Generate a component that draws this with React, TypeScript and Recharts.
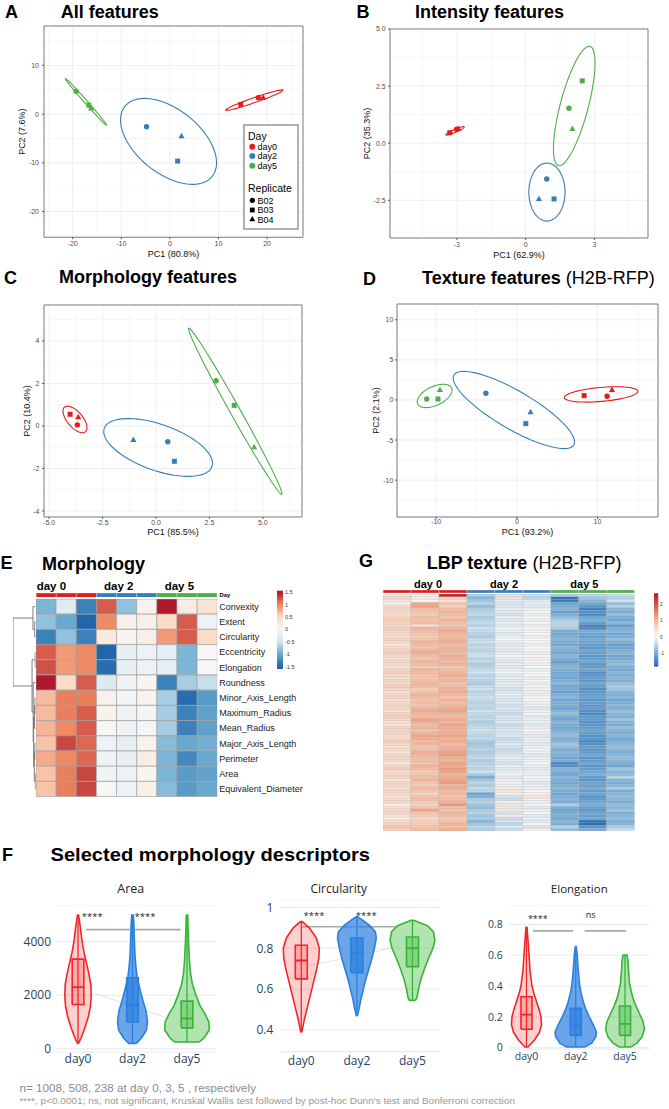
import React from 'react';
import {
  ScatterChart, Scatter, XAxis, YAxis, CartesianGrid, ReferenceLine, ReferenceArea,
  BarChart, Bar, Cell,
} from 'recharts';

const SANS = "'Liberation Sans', Arial, Helvetica, sans-serif";
const NARROW = "'Liberation Sans Narrow', 'Arial Narrow', 'Liberation Sans', sans-serif";
const PLOTLY_FONT = "'Open Sans', 'Liberation Sans', sans-serif";

// ---------------- shared categories ----------------
const DAYS = ['day0', 'day2', 'day5'];
const REPLICATES = ['B02', 'B03', 'B04'];
const DAY_COLORS: Record<string, string> = { day0: '#E41A1C', day2: '#377EB8', day5: '#4DAF4A' };

const P = (day: string, rep: string, x: number, y: number) => ({ day, rep, x, y });
const E = (day: string, cx: number, cy: number, ax: number, ay: number, bx: number, by: number) =>
  ({ day, cx, cy, ax, ay, bx, by });

// ---------------- PCA data (A-D) ----------------
const pcaAllPoints = [
  P('day0', 'B02', 18.2, 3.35), P('day0', 'B03', 14.6, 2.0), P('day0', 'B04', 19.2, 3.4),
  P('day2', 'B02', -4.8, -2.6), P('day2', 'B03', 1.6, -9.65), P('day2', 'B04', 2.4, -4.5),
  P('day5', 'B02', -19.3, 4.7), P('day5', 'B03', -16.7, 1.85), P('day5', 'B04', -16.2, 1.2),
];
const pcaAllEllipses = [
  E('day0', 17.4, 2.87, 5.9, 2.05, 0.17, -0.48),
  E('day2', -0.27, -5.6, 8.99, -7.19, 4.11, 5.13),
  E('day5', -17.25, 2.5, 4.25, -4.8, 0.23, 0.2),
];
const pcaIntensityPoints = [
  P('day0', 'B02', -3.01, 0.61), P('day0', 'B03', -3.31, 0.46), P('day0', 'B04', -2.94, 0.64),
  P('day2', 'B02', 0.92, -1.57), P('day2', 'B03', 1.24, -2.44), P('day2', 'B04', 0.58, -2.44),
  P('day5', 'B02', 1.89, 1.53), P('day5', 'B03', 2.47, 2.73), P('day5', 'B04', 2.04, 0.63),
];
const pcaIntensityEllipses = [
  E('day0', -3.08, 0.54, 0.4, 0.175, 0.026, -0.06),
  E('day2', 0.93, -2.14, 0, 1.27, 0.79, 0),
  E('day5', 2.12, 1.63, 0.69, 2.61, 0.59, -0.158),
];
const pcaMorphPoints = [
  P('day0', 'B02', -3.68, 0.05), P('day0', 'B03', -4.02, 0.55), P('day0', 'B04', -3.64, 0.41),
  P('day2', 'B02', 0.55, -0.74), P('day2', 'B03', 0.86, -1.66), P('day2', 'B04', -1.06, -0.66),
  P('day5', 'B02', 2.81, 2.13), P('day5', 'B03', 3.66, 0.97), P('day5', 'B04', 4.59, -1.0),
];
const pcaMorphEllipses = [
  E('day0', -3.79, 0.31, 0.49, -0.58, 0.275, 0.235),
  E('day2', 0.1, -1.01, 2.52, -0.9, 0.36, 1.02),
  E('day5', 3.71, 0.69, 2.18, -3.91, 0.204, 0.115),
];
const pcaTexturePoints = [
  P('day0', 'B02', 11.19, 0.46), P('day0', 'B03', 8.34, 0.54), P('day0', 'B04', 11.8, 1.25),
  P('day2', 'B02', -3.84, 0.83), P('day2', 'B03', 1.11, -2.95), P('day2', 'B04', 1.7, -1.53),
  P('day5', 'B02', -11.18, 0.12), P('day5', 'B03', -9.78, 0.12), P('day5', 'B04', -9.53, 1.25),
];
const pcaTextureEllipses = [
  E('day0', 10.45, 0.69, 4.56, 0.4, 0.075, -0.87),
  E('day2', -0.37, -1.25, 7.43, -4.36, 1.19, 2.05),
  E('day5', -10.19, 0.5, 2.1, 0.99, 0.5, -1.07),
];

// tick values
const ticksAX = [-20, -10, 0, 10, 20]; const minorAX = [-25, -15, -5, 5, 15, 25];
const ticksAY = [-20, -10, 0, 10]; const minorAY = [-25, -15, -5, 5, 15];
const ticksBX = [-3, 0, 3]; const minorBX = [-4.5, -1.5, 1.5, 4.5];
const ticksBY = [-2.5, 0, 2.5, 5]; const minorBY = [-3.75, -1.25, 1.25, 3.75];
const ticksCX = [-5, -2.5, 0, 2.5, 5]; const minorCX = [-3.75, -1.25, 1.25, 3.75, 6.25];
const ticksCY = [-4, -2, 0, 2, 4]; const minorCY = [-3, -1, 1, 3, 5];
const ticksDX = [-10, 0, 10]; const minorDX = [-5, 5, 15];
const ticksDY = [-10, -5, 0, 5, 10]; const minorDY = [-12.5, -7.5, -2.5, 2.5, 7.5];

// ---------------- Heatmap E (morphology) ----------------
const morphologyFeatures = [
  'Convexity', 'Extent', 'Circularity', 'Eccentricity', 'Elongation', 'Roundness',
  'Minor_Axis_Length', 'Maximum_Radius', 'Mean_Radius', 'Major_Axis_Length', 'Perimeter',
  'Area', 'Equivalent_Diameter',
];
const sampleDays = ['day0', 'day0', 'day0', 'day2', 'day2', 'day2', 'day5', 'day5', 'day5'];
const morphologyHeat = [
  [-0.9, -0.3, -1.3, 1.2, -0.8, 0.1, 1.6, 0.2, 0.35],
  [-0.8, -1.0, -1.5, 1.0, 0.15, 0.15, 0.5, 1.2, -0.15],
  [-1.3, -0.8, -1.3, 0.25, 0.05, 0.15, 0.9, 1.2, 0.5],
  [1.2, 0.9, 1.0, -1.5, -0.2, -0.15, -0.25, -0.9, 0.0],
  [1.25, 0.9, 1.0, -1.45, -0.2, -0.15, -0.25, -0.9, 0.0],
  [1.55, 0.5, 1.2, -0.35, -0.1, 0.05, -1.3, -0.7, -0.55],
  [0.7, 1.05, 1.05, 0.1, -0.05, 0.1, -0.7, -1.45, -1.1],
  [0.7, 1.05, 1.2, 0.1, -0.1, -0.05, -0.7, -1.3, -1.05],
  [0.75, 1.0, 1.2, 0.02, -0.1, -0.05, -0.7, -1.3, -1.05],
  [0.65, 1.3, 1.15, -0.15, -0.25, 0.1, -0.85, -1.0, -0.95],
  [0.8, 1.0, 1.15, -0.1, -0.2, 0.2, -0.9, -1.25, -1.0],
  [0.65, 1.05, 1.3, -0.1, -0.15, 0.05, -0.9, -1.1, -1.05],
  [0.65, 1.05, 1.3, 0.02, -0.15, 0.15, -0.85, -1.1, -1.0],
];
// dendrogram merges: child positions (row units), child heights, merge height
const morphDendro = [
  { p1: 1.5, h1: 0, p2: 2.5, h2: 0, h: 0.4 },
  { p1: 0.5, h1: 0, p2: 2.0, h2: 0.4, h: 1.2 },
  { p1: 3.5, h1: 0, p2: 4.5, h2: 0, h: 0.2 },
  { p1: 6.5, h1: 0, p2: 7.5, h2: 0, h: 0.3 },
  { p1: 7.0, h1: 0.3, p2: 8.5, h2: 0, h: 0.5 },
  { p1: 9.5, h1: 0, p2: 10.5, h2: 0, h: 0.35 },
  { p1: 11.5, h1: 0, p2: 12.5, h2: 0, h: 0.15 },
  { p1: 10.0, h1: 0.35, p2: 12.0, h2: 0.15, h: 0.6 },
  { p1: 7.75, h1: 0.5, p2: 11.0, h2: 0.6, h: 0.9 },
  { p1: 5.5, h1: 0, p2: 9.375, h2: 0.9, h: 1.1 },
  { p1: 4.0, h1: 0.2, p2: 7.44, h2: 1.1, h: 1.6 },
  { p1: 1.25, h1: 1.2, p2: 5.72, h2: 1.6, h: 10 },
];
const morphLegendTicks = [1.5, 1, 0.5, 0, -0.5, -1, -1.5];

// ---------------- Heatmap G (LBP texture), one array per sample ----------------
const lbpDay0A = [
  -0.2, 0.6, 0.3, 0.1, 0.5, 0.6, 0.5, 0.4, 0.6, 0.7,
  0.6, 0.5, 0.7, 0.6, 0.5, 0.4, 0.6, 0.5, 0.3, 0.5,
  0.6, 0.7, 0.5, 0.4, 0.6, 0.5, 0.3, 0.6, 0.7, 0.5,
  0.4, 0.6, 0.5, 0.7, 0.6, 0.4, 0.5, 0.6, 0.3, 0.5,
  0.6, 0.5, 0.4, 0.6, 0.7, 0.5, 0.4, 0.3, 0.6, 0.5,
  0.6, 0.4, 0.5, 0.7, 0.6, 0.4, 0.5, 0.3, 0.5, 0.6,
  0.5, 0.2, 0.6, 0.7, 0.4, 0.5, 0.6, 0.3, 0.6, 0.5,
  0.4, 0.6, 0.5, 0.3, 0.5, 0.6, 0.1, 0.4, 0.5, 0.6,
  0.4, 0.2, 0.5, 0.6, 0.8, 0.7];
const lbpDay0B = [
  0.1, 0.2, 0.0, 1.1, 1.2, 0.9, 0.8, 0.7, 0.9, 0.8,
  0.9, 0.5, 1.0, 0.9, 0.8, 0.7, 0.8, 1.0, 0.9, 0.8,
  1.0, 1.1, 0.9, 0.8, 1.0, 0.9, 0.7, 1.0, 0.9, 0.8,
  0.8, 0.9, 1.0, 0.9, 0.7, 0.8, 1.0, 0.9, 0.8, 0.9,
  0.8, 1.0, 1.1, 1.0, 0.9, 1.2, 1.1, 0.9, 1.0, 0.8,
  1.0, 1.2, 1.1, 0.9, 1.0, 0.8, 0.9, 1.1, 1.0, 0.9,
  0.9, 0.8, 1.0, 0.9, 0.7, 0.8, 0.9, 1.0, 0.8, 0.7,
  0.9, 0.8, 0.6, 0.8, 0.9, 0.7, 0.6, 0.8, 1.2, 0.8,
  0.7, 0.5, 0.6, 0.7, 0.8, 0.9];
const lbpDay0C = [
  2.6, 0.7, 0.3, 0.8, 0.6, 0.9, 1.0, 0.9, 0.8, 1.0,
  0.9, 0.8, 1.0, 1.1, 1.0, 0.9, 1.0, 1.1, 0.9, 1.0,
  1.0, 0.9, 1.1, 1.0, 0.9, 1.0, 0.8, 0.9, 1.0, 1.1,
  0.9, 1.0, 0.8, 0.9, 1.0, 1.1, 0.9, 0.8, 1.0, 0.9,
  1.0, 1.1, 1.2, 1.0, 0.9, 1.1, 1.0, 1.2, 1.1, 1.0,
  1.1, 1.2, 1.0, 1.1, 0.9, 1.0, 1.1, 1.2, 1.3, 1.1,
  1.0, 1.2, 1.1, 1.3, 1.2, 1.0, 1.1, 1.2, 1.3, 1.0,
  1.1, 0.9, 1.0, 0.8, 0.9, 1.0, 1.3, 0.9, 0.8, 1.0,
  0.9, 0.7, 0.8, 1.0, 0.9, 1.1];
const lbpDay2A = [
  -0.6, -0.9, -0.7, -0.5, -0.8, -0.6, -0.5, -0.4, -0.6, -0.5,
  -0.4, -0.5, -0.3, -0.4, -0.5, -0.6, -0.4, -0.3, -0.5, -0.4,
  -0.5, -0.4, -0.3, -0.5, -0.4, -0.6, -0.5, -0.4, -0.3, -0.5,
  -0.4, -0.5, -0.6, -0.4, -0.3, -0.5, -0.4, -0.3, -0.4, -0.5,
  -0.4, -0.5, -0.3, -0.4, -0.5, -0.4, -0.6, -0.5, -0.4, -0.3,
  -0.4, -0.5, -0.4, -0.6, -0.7, -0.6, -0.5, -0.6, -0.5, -0.4,
  -0.6, -0.5, -0.4, -0.5, -0.3, -0.6, -1.0, -0.7, -0.5, -0.6,
  -0.4, -0.5, -1.1, -1.0, -0.6, -0.5, -0.7, -0.8, -0.6, -0.5,
  -0.7, -0.6, -0.9, -0.7, -0.5, -0.6];
const lbpDay2B = [
  -0.3, 0.4, -0.2, -0.3, -0.2, -0.1, -0.2, -0.3, -0.1, -0.2,
  -0.1, -0.2, 0.0, -0.1, -0.2, -0.1, 0.0, -0.1, -0.2, -0.1,
  -0.2, -0.1, 0.0, -0.1, -0.2, -0.1, -0.2, -0.1, 0.0, -0.2,
  -0.1, -0.2, -0.1, -0.2, -0.3, -0.2, -0.1, -0.2, -0.3, -0.2,
  -0.3, -0.2, -0.3, -0.4, -0.2, -0.3, -0.2, -0.4, -0.3, -0.2,
  -0.3, -0.2, -0.4, -0.3, -0.2, -0.3, -0.4, -0.3, -0.2, -0.1,
  -0.2, -0.3, -0.1, -0.2, -0.1, 0.0, -0.2, -0.1, 0.1, -0.1,
  0.2, 0.3, 0.1, -0.3, -0.4, 0.2, -0.2, 0.3, 0.2, -0.3,
  0.2, -0.4, -0.3, -0.5, -0.2, -0.4];
const lbpDay2C = [
  -0.4, -0.5, -0.2, -0.1, -0.2, -0.1, 0.0, -0.1, 0.0, -0.1,
  0.0, -0.1, 0.0, 0.1, 0.0, -0.1, 0.0, 0.0, -0.1, 0.0,
  0.0, -0.1, 0.0, 0.1, 0.0, -0.1, 0.0, -0.1, 0.0, 0.0,
  -0.1, 0.0, -0.1, 0.0, 0.1, -0.1, -0.1, 0.0, 0.0, -0.1,
  -0.1, -0.2, -0.1, 0.0, -0.2, -0.1, -0.1, -0.2, -0.1, 0.0,
  -0.1, -0.2, -0.1, -0.1, -0.2, -0.1, 0.0, -0.1, -0.2, -0.1,
  -0.1, 0.0, -0.1, -0.2, -0.1, -0.1, 0.0, -0.1, -0.2, -0.1,
  -0.1, 0.0, 0.1, 0.3, 0.2, -0.1, 0.0, -0.2, -0.1, 0.0,
  -0.2, -0.1, -0.2, 0.0, -0.3, 0.2];
const lbpDay5A = [
  -0.6, -1.8, -1.7, -1.1, -1.0, -0.9, -1.2, -1.0, -0.8, -0.6,
  -0.5, -0.5, -0.6, -1.0, -1.1, -1.0, -0.9, -1.0, -1.1, -0.9,
  -1.0, -1.1, -0.9, -1.0, -1.2, -1.0, -0.9, -1.0, -1.1, -1.0,
  -1.1, -1.0, -0.9, -1.1, -1.0, -1.2, -1.0, -0.9, -1.1, -1.0,
  -1.0, -1.1, -0.9, -0.8, -1.0, -1.1, -0.9, -1.0, -1.1, -1.0,
  -0.9, -0.8, -1.0, -0.9, -0.7, -0.8, -1.0, -0.9, -1.0, -1.1,
  -1.0, -1.5, -1.4, -0.9, -1.0, -1.1, -0.9, -1.0, -1.1, -1.0,
  -0.9, -1.0, -1.1, -1.0, -0.9, -1.0, -0.6, -1.0, -1.1, -1.0,
  -1.0, -1.1, -0.9, -1.0, -0.5, -0.8];
const lbpDay5B = [
  -0.5, -0.7, -0.9, -1.1, -1.3, -1.6, -1.4, -1.5, -1.1, -1.0,
  -1.2, -1.6, -1.5, -1.0, -1.1, -1.2, -1.0, -1.1, -1.2, -1.3,
  -1.1, -1.2, -1.3, -1.2, -1.1, -1.3, -1.2, -1.1, -1.4, -1.3,
  -1.2, -1.3, -1.1, -1.2, -1.4, -1.3, -1.2, -1.1, -1.3, -1.2,
  -1.3, -1.2, -1.4, -1.5, -1.3, -1.2, -1.4, -1.3, -1.2, -1.1,
  -1.2, -1.4, -1.3, -1.5, -1.4, -1.2, -1.3, -1.2, -1.1, -1.3,
  -1.2, -1.1, -1.3, -1.2, -1.1, -1.0, -1.2, -1.3, -1.1, -1.2,
  -1.0, -1.2, -1.1, -1.4, -1.2, -1.1, -1.0, -1.2, -1.3, -1.1,
  -1.2, -1.1, -1.8, -1.9, -1.3, -1.0];
const lbpDay5C = [
  -0.4, -0.5, -0.3, -0.8, -0.5, -0.9, -1.0, -0.8, -1.0, -1.1,
  -0.9, -1.2, -1.0, -0.9, -1.1, -1.0, -0.8, -1.0, -1.2, -1.1,
  -1.0, -0.9, -1.1, -1.0, -0.9, -0.8, -1.0, -1.1, -0.9, -1.0,
  -0.9, -1.0, -0.8, -0.6, -0.7, -0.9, -1.0, -0.9, -1.1, -1.0,
  -0.9, -1.0, -0.8, -0.9, -1.0, -0.7, -0.9, -1.0, -0.8, -0.9,
  -1.0, -0.9, -1.1, -1.0, -0.9, -0.8, -0.9, -1.0, -0.9, -0.8,
  -0.9, -1.0, -1.1, -0.7, -0.9, -0.8, -0.5, -0.9, -1.0, -0.9,
  -0.6, -1.0, -0.9, -0.8, -0.9, -1.0, -0.8, -0.9, -0.7, -1.0,
  -0.9, -0.8, -1.0, -0.9, -0.6, -0.4];
const lbpSamples = [lbpDay0A, lbpDay0B, lbpDay0C, lbpDay2A, lbpDay2B, lbpDay2C, lbpDay5A, lbpDay5B, lbpDay5C];
const lbpLegendTicks = [2, 1, 0, -1];

// ---------------- Violins F ----------------
// [value, half-width in category units]
const areaDay0 = [[200, 0.01], [400, 0.055], [800, 0.13], [1200, 0.19], [1600, 0.23], [2000, 0.242], [2400, 0.235], [2800, 0.2], [3200, 0.155], [3600, 0.11], [4000, 0.075], [4500, 0.045], [5000, 0.01]];
const areaDay2 = [[200, 0.07], [400, 0.165], [700, 0.255], [1000, 0.275], [1400, 0.25], [1800, 0.19], [2200, 0.14], [2600, 0.09], [3000, 0.065], [3500, 0.045], [4000, 0.035], [4500, 0.028], [5000, 0.015]];
const areaDay5 = [[250, 0.22], [400, 0.31], [700, 0.41], [1000, 0.4], [1300, 0.33], [1600, 0.24], [2000, 0.165], [2400, 0.1], [2800, 0.065], [3300, 0.045], [4000, 0.028], [5000, 0.013]];
const areaBoxes = [[1650, 2300, 3350], [1000, 1650, 2650], [780, 1130, 1780]];

const circDay0 = [[0.39, 0.009], [0.45, 0.054], [0.5, 0.099], [0.55, 0.144], [0.6, 0.189], [0.65, 0.234], [0.7, 0.279], [0.75, 0.315], [0.8, 0.324], [0.85, 0.27], [0.9, 0.144], [0.93, 0.018]];
const circDay2 = [[0.47, 0.009], [0.5, 0.036], [0.55, 0.072], [0.6, 0.117], [0.65, 0.162], [0.7, 0.216], [0.75, 0.27], [0.8, 0.315], [0.85, 0.349], [0.88, 0.333], [0.91, 0.234], [0.94, 0.09], [0.955, 0.009]];
const circDay5 = [[0.545, 0.054], [0.56, 0.081], [0.6, 0.108], [0.65, 0.153], [0.7, 0.216], [0.75, 0.288], [0.8, 0.369], [0.84, 0.403], [0.88, 0.378], [0.91, 0.27], [0.93, 0.09], [0.937, 0.018]];
const circBoxes = [[0.65, 0.74, 0.815], [0.68, 0.775, 0.85], [0.71, 0.8, 0.855]];

const elongDay0 = [[0.005, 0.03], [0.05, 0.162], [0.1, 0.264], [0.15, 0.305], [0.2, 0.294], [0.25, 0.254], [0.3, 0.203], [0.35, 0.152], [0.4, 0.112], [0.5, 0.071], [0.6, 0.051], [0.7, 0.03], [0.78, 0.01]];
const elongDay2 = [[0.005, 0.183], [0.03, 0.325], [0.07, 0.406], [0.1, 0.42], [0.15, 0.355], [0.2, 0.274], [0.25, 0.203], [0.3, 0.152], [0.35, 0.112], [0.4, 0.081], [0.5, 0.051], [0.6, 0.03], [0.655, 0.01]];
const elongDay5 = [[0.005, 0.122], [0.03, 0.244], [0.07, 0.345], [0.12, 0.394], [0.17, 0.365], [0.22, 0.294], [0.27, 0.223], [0.32, 0.162], [0.37, 0.122], [0.42, 0.091], [0.5, 0.071], [0.56, 0.061], [0.6, 0.041]];
const elongBoxes = [[0.12, 0.215, 0.33], [0.08, 0.145, 0.255], [0.08, 0.155, 0.27]];

const areaTicks = [0, 2000, 4000];
const circTicks = [0.4, 0.6, 0.8, 1];
const elongTicks = [0, 0.2, 0.4, 0.6, 0.8];

const areaSigLines = [[[1.15, 4450], [1.95, 4450]], [[2.05, 4450], [2.88, 4450]]];
const circSigLines = [[[1.0, 0.905], [1.98, 0.905]], [[2.02, 0.905], [2.73, 0.905]]];
const elongSigLines = [[[1.13, 0.757], [1.95, 0.757]], [[2.18, 0.757], [3.02, 0.757]]];
const areaSigLabels = [{ x: 1.26, y: 5000, label: '****' }, { x: 2.23, y: 5000, label: '****' }];
const circSigLabels = [{ x: 1.23, y: 0.971, label: '****' }, { x: 2.17, y: 0.971, label: '****' }];
const elongSigLabels = [{ x: 1.23, y: 0.847, label: '****' }, { x: 2.3, y: 0.86, label: 'ns' }];
const areaTrend = [[1.27, 2093], [2.66, 1136]];
const circTrend = [[1.18, 0.717], [2.73, 0.806]];

const VIOLIN_STYLE: Record<string, any> = {
  day0: { stroke: '#F0262B', fill: '#FF2A2A', op: 0.22 },
  day2: { stroke: '#2B7FE0', fill: '#2B7FE0', op: 0.7 },
  day5: { stroke: '#36B436', fill: '#45BE45', op: 0.42 },
};

// ---------------- helpers ----------------
const hexToRgb = (h: string) => { const n = parseInt(h.slice(1), 16); return [(n >> 16) & 255, (n >> 8) & 255, n & 255]; };
const makeColorScale = (stops: any[]) => (v: number) => {
  if (v <= stops[0][0]) return stops[0][1];
  for (let i = 1; i < stops.length; i++) {
    if (v <= stops[i][0]) {
      const [v0, c0] = stops[i - 1]; const [v1, c1] = stops[i];
      const t = (v - v0) / (v1 - v0); const a = hexToRgb(c0); const b = hexToRgb(c1);
      return `rgb(${a.map((x, k) => Math.round(x + (b[k] - x) * t)).join(',')})`;
    }
  }
  return stops[stops.length - 1][1];
};
const morphStops = [[-1.5, '#2166AC'], [-1, '#67A9CF'], [-0.5, '#D1E5F0'], [0, '#F7F7F7'], [0.5, '#FDDBC7'], [1, '#EF8A62'], [1.5, '#B2182B']];
const lbpStops = [[-1.9, '#2A6BB0'], [-1.2, '#5F9DD0'], [-0.7, '#9CC6E2'], [-0.3, '#D3E5F1'], [0, '#F7F7F7'], [0.6, '#FBD5C0'], [1.2, '#F1A483'], [1.9, '#D6604D'], [2.7, '#B2182B']];
const morphColor = makeColorScale(morphStops);
const lbpColor = makeColorScale(lbpStops);

const ellipsePoints = (e: any) => {
  const pts = [];
  for (let i = 0; i <= 72; i++) {
    const t = (i / 72) * 2 * Math.PI;
    pts.push({ x: e.cx + e.ax * Math.cos(t) + e.bx * Math.sin(t), y: e.cy + e.ay * Math.cos(t) + e.by * Math.sin(t) });
  }
  return pts;
};
const renderNothing = () => <g />;
const markerShape = (color: string) => (props: any) => {
  const { cx, cy, payload } = props;
  if (cx == null || cy == null) return <g />;
  const rep = payload && payload.rep;
  if (rep === 'B02') return <circle cx={cx} cy={cy} r={2.7} fill={color} />;
  if (rep === 'B03') return <rect x={cx - 2.5} y={cy - 2.5} width={5} height={5} fill={color} />;
  return <polygon points={`${cx},${cy - 3.4} ${cx + 3.1},${cy + 2.1} ${cx - 3.1},${cy + 2.1}`} fill={color} />;
};

// ---------------- PCA panel ----------------
const PAD_TOP = 6;
const PAD_BOTTOM = 5;
function PcaPanel({ c }: any) {
  const yAxisWidth = c.plotLeft - c.left;
  const width = c.plotRight - c.left + 1;
  const height = c.plotBottom - c.plotTop + c.xAxisHeight + PAD_TOP + PAD_BOTTOM;
  const tickStyle = { fontSize: 7, fill: '#4D4D4D', fontFamily: SANS };
  return (
    <div style={{ position: 'absolute', left: c.left, top: c.plotTop - PAD_TOP }}>
      <ScatterChart width={width} height={height} margin={{ top: PAD_TOP, right: 1, bottom: PAD_BOTTOM, left: 0 }}>
        <CartesianGrid stroke="#EBEBEB" strokeWidth={0.8} />
        {c.xMinor.map((v: number) => <ReferenceLine key={'xm' + v} x={v} stroke="#F2F2F2" strokeWidth={0.6} />)}
        {c.yMinor.map((v: number) => <ReferenceLine key={'ym' + v} y={v} stroke="#F2F2F2" strokeWidth={0.6} />)}
        <XAxis type="number" dataKey="x" domain={c.xDomain} ticks={c.xTicks} allowDataOverflow interval={0}
          tickFormatter={c.xFmt} axisLine={false} tickSize={2} tickMargin={c.xTickMargin}
          tickLine={{ stroke: '#333', strokeWidth: 0.8 }} tick={tickStyle} height={c.xAxisHeight}
          label={{ value: c.xLabel, position: 'insideBottom', offset: 0, style: { fontSize: 9, fill: '#111', fontFamily: SANS } }} />
        <YAxis type="number" dataKey="y" domain={c.yDomain} ticks={c.yTicks} allowDataOverflow interval={0}
          tickFormatter={c.yFmt} axisLine={false} tickSize={2} tickMargin={c.yTickMargin}
          tickLine={{ stroke: '#333', strokeWidth: 0.8 }} tick={tickStyle} width={yAxisWidth}
          label={{ value: c.yLabel, angle: -90, position: 'insideLeft', offset: c.yLabelX - c.left, style: { textAnchor: 'middle', fontSize: 9, fill: '#111', fontFamily: SANS } }} />
        {c.ellipses.map((e: any) => (
          <Scatter key={'el' + e.day} data={ellipsePoints(e)} line={{ stroke: DAY_COLORS[e.day], strokeWidth: 1.1, fill: 'none' }}
            lineType="joint" shape={renderNothing} isAnimationActive={false} />
        ))}
        {DAYS.map((d) => (
          <Scatter key={'pt' + d} data={c.points.filter((p: any) => p.day === d)} shape={markerShape(DAY_COLORS[d])} isAnimationActive={false} />
        ))}
        <ReferenceArea x1={c.xDomain[0]} x2={c.xDomain[1]} y1={c.yDomain[0]} y2={c.yDomain[1]} fill="none" fillOpacity={0}
          stroke="#7F7F7F" strokeWidth={1} ifOverflow="visible" />
      </ScatterChart>
    </div>
  );
}

const fmt1 = (v: number) => v.toFixed(1);
const fmt0 = (v: number) => String(v);

const panelA = {
  left: 0, plotLeft: 44, plotRight: 303, plotTop: 26, plotBottom: 237.3, xAxisHeight: 19.3,
  xDomain: [-25.9, 27.4], yDomain: [-25.3, 18.1], xTicks: ticksAX, yTicks: ticksAY, xMinor: minorAX, yMinor: minorAY,
  xFmt: fmt0, yFmt: fmt0, xTickMargin: 1.5, yTickMargin: 3, yLabelX: 22,
  xLabel: 'PC1 (80.8%)', yLabel: 'PC2 (7.6%)', points: pcaAllPoints, ellipses: pcaAllEllipses,
};
const panelB = {
  left: 335, plotLeft: 390, plotRight: 648, plotTop: 29, plotBottom: 238, xAxisHeight: 20.3,
  xDomain: [-5.92, 5.34], yDomain: [-4.15, 5.0], xTicks: ticksBX, yTicks: ticksBY, xMinor: minorBX, yMinor: minorBY,
  xFmt: fmt0, yFmt: fmt1, xTickMargin: 2.5, yTickMargin: 2.3, yLabelX: 366.7,
  xLabel: 'PC1 (62.9%)', yLabel: 'PC2 (35.3%)', points: pcaIntensityPoints, ellipses: pcaIntensityEllipses,
};
const panelC = {
  left: 0, plotLeft: 44, plotRight: 302, plotTop: 305, plotBottom: 517, xAxisHeight: 17.6,
  xDomain: [-5.24, 6.83], yDomain: [-4.28, 5.69], xTicks: ticksCX, yTicks: ticksCY, xMinor: minorCX, yMinor: minorCY,
  xFmt: fmt1, yFmt: fmt0, xTickMargin: 0.9, yTickMargin: 2.7, yLabelX: 26.7,
  xLabel: 'PC1 (85.5%)', yLabel: 'PC2 (10.4%)', points: pcaMorphPoints, ellipses: pcaMorphEllipses,
};
const panelD = {
  left: 335, plotLeft: 397, plotRight: 658, plotTop: 304, plotBottom: 517, xAxisHeight: 18,
  xDomain: [-14.86, 17.5], yDomain: [-14.6, 11.97], xTicks: ticksDX, yTicks: ticksDY, xMinor: minorDX, yMinor: minorDY,
  xFmt: fmt0, yFmt: fmt0, xTickMargin: 0.5, yTickMargin: 1.7, yLabelX: 375.7,
  xLabel: 'PC1 (93.2%)', yLabel: 'PC2 (2.1%)', points: pcaTexturePoints, ellipses: pcaTextureEllipses,
};

// ---------------- Heatmap ----------------
function Heatmap({ left, top, cellWidth, height, rows, getValue, colorFn, stroke, strokeWidth, labelWidth, showLabels }: any) {
  const nCols = sampleDays.length;
  const keys = sampleDays.map((_, j) => 's' + j);
  const data = rows.map((name: string) => { const o: any = { name }; keys.forEach((k) => { o[k] = 1; }); return o; });
  const width = cellWidth + (showLabels ? labelWidth : 0);
  return (
    <div style={{ position: 'absolute', left, top }}>
      <BarChart layout="vertical" width={width} height={height} data={data} margin={{ top: 0, right: 0, bottom: 0, left: 0 }}
        barCategoryGap={0} barGap={0}>
        <XAxis type="number" domain={[0, nCols]} hide allowDataOverflow />
        <YAxis type="category" dataKey="name" orientation="right" hide={!showLabels} width={labelWidth}
          axisLine={false} tickLine={false} tickSize={0} tickMargin={2} interval={0}
          tick={{ fontSize: 9, fill: '#1A1A1A', fontFamily: SANS, textAnchor: 'start' }} />
        {keys.map((k, j) => (
          <Bar key={k} dataKey={k} stackId="h" isAnimationActive={false} stroke={stroke} strokeWidth={strokeWidth}>
            {rows.map((_: string, i: number) => <Cell key={i} fill={colorFn(getValue(i, j))} />)}
          </Bar>
        ))}
      </BarChart>
    </div>
  );
}

function AnnotationBar({ left, top, width, height }: any) {
  const keys = sampleDays.map((_, j) => 'a' + j);
  const row: any = { name: 'Day' }; keys.forEach((k) => { row[k] = 1; });
  return (
    <div style={{ position: 'absolute', left, top }}>
      <BarChart layout="vertical" width={width} height={height} data={[row]} margin={{ top: 0, right: 0, bottom: 0, left: 0 }}
        barCategoryGap={0} barGap={0}>
        <XAxis type="number" domain={[0, keys.length]} hide allowDataOverflow />
        <YAxis type="category" dataKey="name" hide />
        {keys.map((k, j) => (
          <Bar key={k} dataKey={k} stackId="a" isAnimationActive={false} stroke="#d9d9d9" strokeWidth={0.4}>
            <Cell fill={DAY_COLORS[sampleDays[j]]} />
          </Bar>
        ))}
      </BarChart>
    </div>
  );
}

function Dendrogram({ left, top, width, height, links, nRows, maxH }: any) {
  return (
    <div style={{ position: 'absolute', left, top }}>
      <ScatterChart width={width} height={height} margin={{ top: 0, right: 0, bottom: 0, left: 0 }}>
        <XAxis type="number" dataKey="x" domain={[0, maxH]} reversed hide allowDataOverflow />
        <YAxis type="number" dataKey="y" domain={[0, nRows]} reversed hide allowDataOverflow />
        {links.map((l: any, i: number) => (
          <Scatter key={i} isAnimationActive={false} shape={renderNothing} lineType="joint"
            line={{ stroke: '#6E6E6E', strokeWidth: 0.9, fill: 'none' }}
            data={[{ x: l.h1, y: l.p1 }, { x: l.h, y: l.p1 }, { x: l.h, y: l.p2 }, { x: l.h2, y: l.p2 }]} />
        ))}
      </ScatterChart>
    </div>
  );
}

// ---------------- Violin panel ----------------
const violinPolygon = (profile: number[][], c: number) => {
  const right = profile.map(([v, w]) => ({ x: c + w, y: v }));
  const leftSide = profile.slice().reverse().map(([v, w]) => ({ x: c - w, y: v }));
  return [...right, ...leftSide, right[0]];
};
const sigTextShape = (fontSize: number) => (props: any) => {
  const { cx, cy, payload } = props;
  if (cx == null) return <g />;
  const isStar = payload.label.indexOf('*') >= 0;
  return (
    <text x={cx} y={cy} dy={isStar ? '0.58em' : '0.3em'} textAnchor="middle" fontSize={fontSize}
      fill="#222" fontFamily={PLOTLY_FONT}>{payload.label}</text>
  );
};

function ViolinPanel({ c }: any) {
  const yAxisWidth = c.plotLeft - c.left;
  const width = c.plotRight - c.left;
  const height = c.plotBottom - c.plotTop + 20;
  const tick = { fontSize: c.tickFont, fill: '#2A3F5F', fontFamily: PLOTLY_FONT };
  return (
    <div style={{ position: 'absolute', left: c.left, top: c.plotTop }}>
      <ScatterChart width={width} height={height} margin={{ top: 0, right: 0, bottom: 0, left: 0 }}>
        <CartesianGrid vertical={false} stroke="#E5EAF2" strokeWidth={1} />
        <XAxis type="number" dataKey="x" domain={c.xDomain} ticks={[1, 2, 3]} allowDataOverflow interval={0}
          tickFormatter={(v: number) => DAYS[v - 1]} axisLine={c.axisLine ? { stroke: '#E5EAF2' } : false}
          tickLine={false} tickSize={0} tickMargin={c.xTickMargin} tick={tick} height={20} />
        <YAxis type="number" dataKey="y" domain={c.yDomain} ticks={c.yTicks} allowDataOverflow interval={0}
          tickFormatter={c.yFmt} axisLine={false} tickLine={false} tickSize={0} tickMargin={c.yTickMargin}
          tick={tick} width={yAxisWidth} />
        {c.trend && (
          <Scatter data={c.trend.map(([x, y]: number[]) => ({ x, y }))} line={{ stroke: '#E2E2E2', strokeWidth: 1 }}
            lineType="joint" shape={renderNothing} isAnimationActive={false} />
        )}
        {c.sigLines.map((seg: number[][], i: number) => (
          <Scatter key={'sig' + i} data={seg.map(([x, y]) => ({ x, y }))} line={{ stroke: '#A9A9A9', strokeWidth: 1.6 }}
            lineType="joint" shape={renderNothing} isAnimationActive={false} />
        ))}
        {DAYS.map((d, i) => {
          const s = VIOLIN_STYLE[d];
          const prof = c.profiles[i];
          const box = c.boxes[i];
          const ctr = i + 1;
          const hw = c.boxHalf;
          return [
            <Scatter key={'v' + d} data={violinPolygon(prof, ctr)} lineType="joint" shape={renderNothing} isAnimationActive={false}
              line={{ stroke: s.stroke, strokeWidth: 1.6, fill: s.fill, fillOpacity: s.op, strokeLinejoin: 'round' }} />,
            <Scatter key={'w' + d} data={[{ x: ctr, y: prof[0][0] }, { x: ctr, y: prof[prof.length - 1][0] }]} lineType="joint"
              shape={renderNothing} isAnimationActive={false} line={{ stroke: s.stroke, strokeWidth: 1.3 }} />,
            <Scatter key={'b' + d} lineType="joint" shape={renderNothing} isAnimationActive={false}
              data={[{ x: ctr - hw, y: box[0] }, { x: ctr + hw, y: box[0] }, { x: ctr + hw, y: box[2] }, { x: ctr - hw, y: box[2] }, { x: ctr - hw, y: box[0] }]}
              line={{ stroke: s.stroke, strokeWidth: 1.6, fill: s.fill, fillOpacity: s.op }} />,
            <Scatter key={'m' + d} lineType="joint" shape={renderNothing} isAnimationActive={false}
              data={[{ x: ctr - hw, y: box[1] }, { x: ctr + hw, y: box[1] }]} line={{ stroke: s.stroke, strokeWidth: 1.8 }} />,
          ];
        })}
        <Scatter data={c.sigLabels} shape={sigTextShape(c.starFont)} isAnimationActive={false} />
      </ScatterChart>
    </div>
  );
}

const violinArea = {
  left: 16, plotLeft: 56, plotRight: 216, plotTop: 905, plotBottom: 1052,
  xDomain: [0.596, 3.532], yDomain: [-123, 5372], yTicks: areaTicks, yFmt: fmt0, tickFont: 12,
  xTickMargin: 2.5, yTickMargin: 5, axisLine: false, boxHalf: 0.107,
  profiles: [areaDay0, areaDay2, areaDay5], boxes: areaBoxes, sigLines: areaSigLines, sigLabels: areaSigLabels,
  trend: areaTrend, starFont: 9.5,
};
const violinCirc = {
  left: 240.5, plotLeft: 280.5, plotRight: 440, plotTop: 900, plotBottom: 1051.7,
  xDomain: [0.635, 3.504], yDomain: [0.294, 1.036], yTicks: circTicks, yFmt: (v: number) => (v === 1 ? '1' : v.toFixed(1)),
  tickFont: 12, xTickMargin: 4.5, yTickMargin: 7.7, axisLine: true, boxHalf: 0.108,
  profiles: [circDay0, circDay2, circDay5], boxes: circBoxes, sigLines: circSigLines, sigLabels: circSigLabels,
  trend: circTrend, starFont: 9.5,
};
const violinElong = {
  left: 469, plotLeft: 509, plotRight: 649.5, plotTop: 905, plotBottom: 1049,
  xDomain: [0.645, 3.497], yDomain: [-0.0084, 0.925], yTicks: elongTicks, yFmt: (v: number) => (v === 0 ? '0' : v.toFixed(1)),
  tickFont: 10.5, xTickMargin: 3.9, yTickMargin: 6.2, axisLine: false, boxHalf: 0.112,
  profiles: [elongDay0, elongDay2, elongDay5], boxes: elongBoxes, sigLines: elongSigLines, sigLabels: elongSigLabels,
  trend: null, starFont: 9,
};

// ---------------- overlay (titles, legends, footnotes) ----------------
function Overlay() {
  const bold = { fontFamily: SANS, fontWeight: 700, fill: '#000' } as any;
  const morphTop = 1.565; const morphBottom = -1.59;
  const lbpTop = 2.67; const lbpBottom = -1.82;
  return (
    <svg width={669} height={1109} style={{ position: 'absolute', left: 0, top: 0, pointerEvents: 'none' }}>
      <defs>
        <linearGradient id="gMorph" x1="0" y1="0" x2="0" y2="1">
          {morphStops.slice().reverse().map(([v, col]: any, i: number) => (
            <stop key={i} offset={Math.min(1, Math.max(0, (morphTop - v) / (morphTop - morphBottom)))} stopColor={col} />
          ))}
        </linearGradient>
        <linearGradient id="gLbp" x1="0" y1="0" x2="0" y2="1">
          {lbpStops.slice().reverse().map(([v, col]: any, i: number) => (
            <stop key={i} offset={Math.min(1, Math.max(0, (lbpTop - v) / (lbpTop - lbpBottom)))} stopColor={col} />
          ))}
        </linearGradient>
      </defs>
      {/* panel letters & titles */}
      <text x={5} y={18} fontSize={18} {...bold}>A</text>
      <text x={60.7} y={17.8} fontSize={18} {...bold}>All features</text>
      <text x={356.5} y={17.5} fontSize={18} {...bold}>B</text>
      <text x={415} y={17.8} fontSize={18} {...bold}>Intensity features</text>
      <text x={4} y={283.5} fontSize={18} {...bold}>C</text>
      <text x={59} y={282.5} fontSize={18} {...bold}>Morphology features</text>
      <text x={363} y={284.5} fontSize={18} {...bold}>D</text>
      <text x={422} y={284} fontSize={18} fontFamily={SANS} fill="#000">
        <tspan fontWeight={700}>Texture features</tspan><tspan> (H2B-RFP)</tspan>
      </text>
      <text x={0.5} y={569.3} fontSize={18} {...bold}>E</text>
      <text x={42} y={569.6} fontSize={18} {...bold}>Morphology</text>
      <text x={359} y={566.8} fontSize={18} {...bold}>G</text>
      <text x={426.7} y={569.3} fontSize={18} fontFamily={SANS} fill="#000">
        <tspan fontWeight={700}>LBP texture</tspan><tspan> (H2B-RFP)</tspan>
      </text>
      <text x={2} y={861} fontSize={18} {...bold}>F</text>
      <text x={50.5} y={861.2} fontSize={19} textLength={319.5} lengthAdjust="spacingAndGlyphs" {...bold}>Selected morphology descriptors</text>

      {/* legend of panel A */}
      <rect x={244} y={125} width={54} height={104} fill="#fff" stroke="#555" strokeWidth={0.9} />
      <text x={248} y={140.3} fontSize={10.5} fontFamily={SANS} fill="#000">Day</text>
      {DAYS.map((d, i) => {
        const cy = [146.7, 156, 165.7][i];
        return (
          <g key={d}>
            <circle cx={252.3} cy={cy} r={3} fill={DAY_COLORS[d]} />
            <text x={257.5} y={cy + 3.2} fontSize={9} fontFamily={SANS} fill="#000">{d}</text>
          </g>
        );
      })}
      <text x={248} y={192} fontSize={10.5} fontFamily={SANS} fill="#000">Replicate</text>
      {REPLICATES.map((r, i) => {
        const cy = [200.3, 210, 219.3][i];
        const cx = 252.3;
        const mark = i === 0 ? <circle cx={cx} cy={cy} r={2.6} fill="#000" />
          : i === 1 ? <rect x={cx - 2.4} y={cy - 2.4} width={4.8} height={4.8} fill="#000" />
            : <polygon points={`${cx},${cy - 3.2} ${cx + 3},${cy + 2} ${cx - 3},${cy + 2}`} fill="#000" />;
        return (
          <g key={r}>
            {mark}
            <text x={257.5} y={cy + 3.2} fontSize={9} fontFamily={SANS} fill="#000">{r}</text>
          </g>
        );
      })}

      {/* heatmap E column labels, annotation name, colour bar */}
      {['day 0', 'day 2', 'day 5'].map((t, i) => (
        <text key={'e' + t} x={[36.7, 104, 164.7][i]} y={589.5} fontSize={11.5} {...bold}>{t}</text>
      ))}
      <text x={219.5} y={597} fontSize={5.8} {...bold}>Day</text>
      <rect x={277} y={590.7} width={6} height={78.3} fill="url(#gMorph)" />
      {morphLegendTicks.map((v) => {
        const y = 590.7 + ((morphTop - v) / (morphTop - morphBottom)) * 78.3;
        return <text key={'ml' + v} x={285} y={y + 1.9} fontSize={5.5} fontFamily={SANS} fill="#333">{String(v)}</text>;
      })}

      {/* heatmap G column labels and colour bar */}
      {['day 0', 'day 2', 'day 5'].map((t, i) => (
        <text key={'g' + t} x={[414, 490, 570.3][i]} y={587.6} fontSize={11} {...bold}>{t}</text>
      ))}
      <rect x={654} y={593.3} width={4.3} height={73.4} fill="url(#gLbp)" />
      {lbpLegendTicks.map((v) => {
        const y = 593.3 + ((lbpTop - v) / (lbpTop - lbpBottom)) * 73.4;
        return <text key={'gl' + v} x={660} y={y + 1.6} fontSize={4.6} fontFamily={SANS} fill="#333">{String(v)}</text>;
      })}

      {/* violin titles */}
      <text x={130.8} y={893.3} textAnchor="middle" fontSize={12.5} fontFamily={PLOTLY_FONT} fill="#222">Area</text>
      <text x={338.8} y={893.3} textAnchor="middle" fontSize={12} fontFamily={PLOTLY_FONT} fill="#222">Circularity</text>
      <text x={579.3} y={893.3} textAnchor="middle" fontSize={11.5} fontFamily={PLOTLY_FONT} fill="#222">Elongation</text>

      {/* footnotes */}
      <text x={19.4} y={1092.3} fontSize={11.5} fontFamily={NARROW} fill="#8C8C8C" textLength={236.6} lengthAdjust="spacingAndGlyphs">
        n= 1008, 508, 238 at day 0, 3, 5 , respectively
      </text>
      <text x={19.4} y={1104.3} fontSize={8.6} fontFamily={NARROW} fill="#999" textLength={495.6} lengthAdjust="spacingAndGlyphs">
        ****, p&lt;0.0001; ns, not significant, Kruskal Wallis test followed by post-hoc Dunn's test and Bonferroni correction
      </text>
    </svg>
  );
}

export default function App() {
  const lbpRows = lbpDay0A.map((_, i) => 'lbp' + i);
  return (
    <div style={{ position: 'absolute', left: 0, top: 0, width: 669, height: 1109, background: '#fff', overflow: 'hidden', fontFamily: SANS }}>
      <PcaPanel c={panelA} />
      <PcaPanel c={panelB} />
      <PcaPanel c={panelC} />
      <PcaPanel c={panelD} />

      <AnnotationBar left={36} top={592.7} width={181.3} height={4.6} />
      <Dendrogram left={13.3} top={599.3} width={22.7} height={197.7} links={morphDendro} nRows={morphologyFeatures.length} maxH={10} />
      <Heatmap left={36} top={599.3} cellWidth={181.3} height={197.7} rows={morphologyFeatures} labelWidth={95} showLabels
        getValue={(i: number, j: number) => morphologyHeat[i][j]} colorFn={morphColor} stroke="#9A9A9A" strokeWidth={0.6} />

      <AnnotationBar left={383.3} top={590} width={251.7} height={3.3} />
      <Heatmap left={383.3} top={594.3} cellWidth={251.7} height={237} rows={lbpRows} labelWidth={0} showLabels={false}
        getValue={(i: number, j: number) => lbpSamples[j][i]} colorFn={lbpColor} stroke="#B8B8B8" strokeWidth={0.3} />

      <ViolinPanel c={violinArea} />
      <ViolinPanel c={violinCirc} />
      <ViolinPanel c={violinElong} />

      <Overlay />
    </div>
  );
}
